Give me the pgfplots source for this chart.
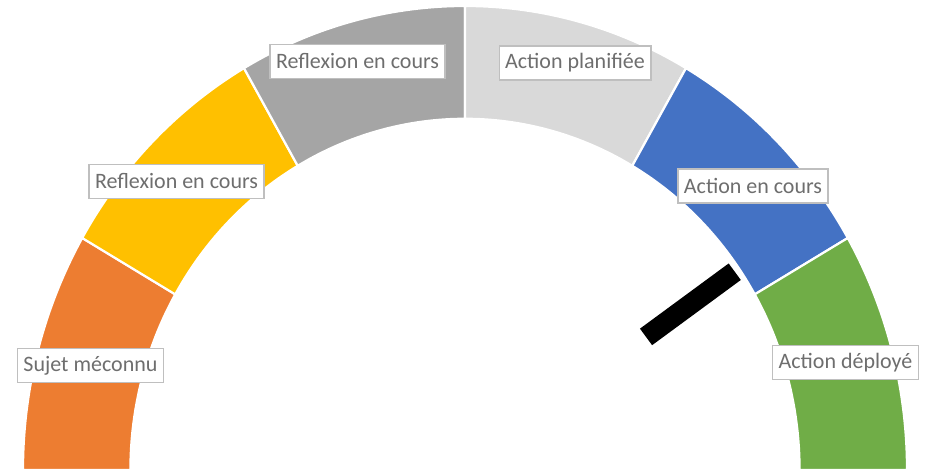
\documentclass[border=0pt]{standalone}
\usepackage{fontspec}
\setmainfont{Carlito}
\usepackage{pgfplots}
\pgfplotsset{compat=1.18}
\usepgfplotslibrary{fillbetween}
\definecolor{cOrange}{HTML}{ED7D31}
\definecolor{cYellow}{HTML}{FFC000}
\definecolor{cGrey}{HTML}{A5A5A5}
\definecolor{cLight}{HTML}{D9D9D9}
\definecolor{cBlue}{HTML}{4472C4}
\definecolor{cGreen}{HTML}{70AD47}
\definecolor{cText}{HTML}{6E6E6E}
\definecolor{cBorder}{HTML}{BFBFBF}
\newcommand{\rin}{0.757}
% segment: start angle, end angle, colour, name
\newcommand{\seg}[4]{%
  \addplot[draw=none, name path=o#4, domain=#1:#2, samples=40] ({cos(x)},{sin(x)});
  \addplot[draw=none, name path=i#4, domain=#1:#2, samples=40] ({\rin*cos(x)},{\rin*sin(x)});
  \addplot[fill=#3, draw=white, line width=2.2bp] fill between[of=o#4 and i#4];
}
\begin{document}
\begin{tikzpicture}[
  lbl/.style={draw=cBorder, line width=1.3bp, fill=white, text=cText,
    font=\fontsize{22bp}{24bp}\selectfont, inner xsep=6bp, inner ysep=0pt,
    minimum height=34bp}]
\begin{axis}[x=442bp, y=464bp,
  xmin=-1.0520, xmax=1.0543, ymin=-0.0043, ymax=1.0129,
  hide axis, clip=false]
\path (rel axis cs:0,0) rectangle (rel axis cs:1,1);
% six equal segments of the gauge (value 1 each = 30 degrees)
\seg{180}{150}{cOrange}{a}
\seg{150}{120}{cYellow}{b}
\seg{120}{90}{cGrey}{c}
\seg{90}{60}{cLight}{d}
\seg{60}{30}{cBlue}{e}
\seg{30}{0}{cGreen}{f}
% needle at 35 degrees
\addplot[black, line width=20.5bp, line cap=butt]
  coordinates {({0.5*cos(35)},{0.5*sin(35)}) ({0.745*cos(35)},{0.745*sin(35)})};
\node[lbl] at (axis cs:-0.8473,0.2252) {Sujet méconnu};
\node[lbl] at (axis cs:-0.6527,0.6218) {Reflexion en cours};
\node[lbl] at (axis cs:-0.2432,0.8804) {Reflexion en cours};
\node[lbl] at (axis cs:0.2489,0.8772) {Action planifiée};
\node[lbl] at (axis cs:0.6516,0.6121) {Action en cours};
\node[lbl] at (axis cs:0.8609,0.2317) {Action déployé};
\end{axis}
\end{tikzpicture}
\end{document}
